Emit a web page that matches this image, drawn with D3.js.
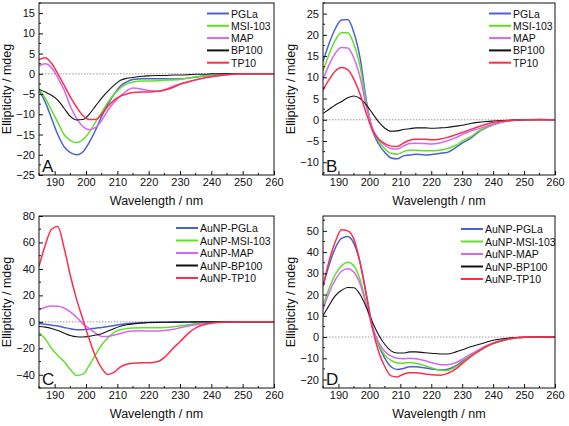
<!DOCTYPE html>
<html><head><meta charset="utf-8">
<script src="https://cdn.jsdelivr.net/npm/d3@7"></script>
<style>body{margin:0;background:#fff}svg{display:block}text{font-family:"Liberation Sans",Arial,sans-serif;fill:#111}</style>
</head><body><svg id="c" width="569" height="426"></svg>
<script>
// Wavelength grid (nm)
const wavelengths = [185,187,189,191,193,195,197,199,201,203,205,207,209,211,213,215,218,220,223,225,228,230,233,235,238,240,245,250,255,260];
const xTicks = [190,200,210,220,230,240,250,260];

// Panel A (free peptides)
const A_PGLa  = [-4,-7,-11,-15,-18,-19.5,-20,-19.3,-17,-14,-10.5,-7.5,-5,-3,-2,-1.4,-1.2,-1.2,-1.2,-1.2,-1.3,-1.3,-1,-0.8,-0.5,-0.3,0,0,0,0];
const A_MSI   = [-3.8,-6,-9,-12,-15,-16.5,-17,-16.3,-14.5,-12,-9.5,-7,-5,-3.5,-2.5,-2,-1.8,-1.8,-1.7,-1.6,-1.5,-1.4,-1,-0.8,-0.5,-0.3,-0.1,0,0,0];
const A_MAP   = [2,2.5,1.5,-1,-4,-8,-11,-13,-13.8,-13.3,-11.5,-9,-7,-5.5,-4.2,-3.5,-3.8,-4.1,-4.3,-4,-3,-2.5,-1.9,-1.5,-0.9,-0.6,-0.2,0,0,0];
const A_BP100 = [-3.8,-4.5,-5.3,-6.5,-8.5,-10.5,-11.4,-11.3,-10,-8,-6,-4.3,-2.8,-1.6,-1.1,-0.9,-0.6,-0.5,-0.4,-0.4,-0.3,-0.3,-0.2,-0.1,-0.1,0,0,0,0,0];
const A_TP10  = [3.5,4,2.6,0,-2.8,-5.7,-8.2,-10.3,-11.3,-11.3,-10,-8,-6.5,-5.5,-5,-4.6,-4.5,-4.5,-4.3,-4,-3.3,-2.6,-1.9,-1.5,-1,-0.7,-0.2,0,0,0];

// Panel B
const B_PGLa  = [13.7,18,21.5,23.5,23.6,20.5,14.5,4.6,-2.5,-5.7,-7.7,-9,-9.2,-8.5,-8.3,-8.1,-8.3,-8.2,-7.9,-7.7,-6.5,-5.5,-4.2,-3,-1.8,-1.2,-0.2,0,0,0];
const B_MSI   = [11.5,15.5,18.8,20.5,20.5,17.8,12.5,4,-2.2,-5,-6.8,-7.9,-8.1,-7.5,-7.2,-7.2,-7.3,-7.3,-7.1,-6.8,-6,-5,-3.9,-2.8,-1.7,-1.1,-0.2,0,0,0];
const B_MAP   = [9.5,13,15.7,17,16.9,14.5,10,3.2,-2,-4.5,-6,-6.8,-6.9,-6.2,-5.6,-5.5,-5.6,-5.7,-5.4,-5,-4.2,-3.5,-2.6,-2.2,-1.5,-1,-0.3,0,0,0];
const B_BP100 = [1.5,2.5,3.5,4.3,5.2,5.6,5,3.5,1.5,-0.5,-2,-2.7,-2.6,-2.3,-2.1,-1.9,-1.9,-2,-1.9,-1.8,-1.5,-1.3,-0.8,-0.6,-0.4,-0.3,-0.1,0,0.1,0];
const B_TP10  = [7,9.5,11.5,12.3,11.8,9.5,6,1.5,-2.5,-4.6,-5.6,-6.2,-6.3,-5.5,-4.8,-4.6,-4.6,-4.7,-4.5,-4.2,-3.5,-3,-2.2,-1.7,-1,-0.6,-0.2,0,0,0];

// Panel C (AuNP conjugates)
const C_PGLa  = [-1.2,-1.8,-2.5,-3.2,-4.2,-5.2,-5.9,-6,-5.5,-4.8,-4.2,-3.5,-2.7,-2,-1.4,-1,-0.6,-0.5,-0.4,-0.3,-0.3,-0.2,-0.1,-0.1,0,0,0,0,0,0];
const C_MSI   = [-8,-13,-20,-25.5,-30,-36,-40.5,-39.5,-33,-25,-17.5,-12,-8,-6,-5,-4.6,-4.5,-4.5,-4.5,-4.3,-3.7,-3,-2,-1.3,-0.7,-0.4,0,0,0,0];
const C_MAP   = [9,11,12,11.7,10.5,7.5,3.5,-1.5,-5,-8.5,-11,-11,-10,-8.8,-7.5,-7,-6.8,-6.9,-6.9,-6.6,-5.6,-4.5,-3,-2.2,-1.2,-0.7,-0.1,0,0,0];
const C_BP100 = [-3.5,-4,-5,-6.5,-8.5,-10.3,-11.3,-11.5,-11,-10,-9,-7,-5,-3.3,-2.2,-1.5,-0.8,-0.5,-0.4,-0.3,-0.2,-0.2,-0.1,0,0,0,0,0,0,0];
const C_TP10  = [42,58,70,72,56,35,17,2,-13,-26,-35,-39.8,-38,-34,-32,-31.3,-31,-31,-30,-27,-19.5,-15,-8,-4.5,-2,-1,-0.2,0,0,0];

// Panel D
const D_PGLa  = [24,34,42,46.5,47.3,44,35,20,5,-4,-10,-14,-15.3,-14.8,-14,-14,-14.6,-15,-15.5,-15.3,-13.5,-11.5,-8.5,-6.5,-4.2,-2.9,-0.8,-0.1,0,0];
const D_MSI   = [15,23,29.5,33.5,35.2,33.5,27,16,4.5,-3.5,-8.5,-11,-12.2,-12.3,-12,-12.3,-13.5,-14.5,-15.6,-15.7,-14,-12,-8.5,-7,-4.5,-3.2,-1,-0.2,0,0];
const D_MAP   = [13,21,27,31,32.2,30.5,25,15,4.5,-2.5,-6.8,-9,-10,-10.2,-10,-10.2,-11.2,-12,-13,-13.1,-12,-10.5,-7.8,-6.3,-4,-2.8,-0.8,-0.1,0,0];
const D_BP100 = [10,15,19.5,22,23.3,23.2,20,14,7,1,-3.5,-6.5,-7.5,-7.5,-7,-7,-7.4,-7.6,-8,-8,-7,-6,-4.5,-3.6,-2.3,-1.5,-0.5,-0.1,0,0];
const D_TP10  = [24,36,45,50.5,50,46,35,20,4,-7,-14,-18.3,-18.8,-17.5,-16.8,-16.8,-17.4,-17.8,-18,-17.3,-15,-12.5,-9,-7,-4.3,-3,-0.9,-0.1,0,0];

const namesFree = ["PGLa","MSI-103","MAP","BP100","TP10"];
const namesAu   = ["AuNP-PGLa","AuNP-MSI-103","AuNP-MAP","AuNP-BP100","AuNP-TP10"];
const colors = ["#4a62d0","#62e028","#d766ee","#111111","#ff2d4a"];
const widths = [1.5,1.5,1.5,1.1,1.5];

const panels = [
  {letter:"A", names:namesFree, series:[A_PGLa,A_MSI,A_MAP,A_BP100,A_TP10], yDom:[-25,17.5], yTicks:[-25,-20,-15,-10,-5,0,5,10,15], yMinor:2.5,
   box:[39,274,3,175], leg:[207,13.5,12.3]},
  {letter:"B", names:namesFree, series:[B_PGLa,B_MSI,B_MAP,B_BP100,B_TP10], yDom:[-13,27.5], yTicks:[-10,-5,0,5,10,15,20,25], yMinor:2.5,
   box:[323,555,3,175], leg:[489,13.5,12.3]},
  {letter:"C", names:namesAu, series:[C_PGLa,C_MSI,C_MAP,C_BP100,C_TP10], yDom:[-50,80], yTicks:[-40,-20,0,20,40,60,80], yMinor:10,
   box:[39,274,216,388], leg:[176,228,12.5]},
  {letter:"D", names:namesAu, series:[D_PGLa,D_MSI,D_MAP,D_BP100,D_TP10], yDom:[-24,57], yTicks:[-20,-10,0,10,20,30,40,50], yMinor:5,
   box:[323,555,216,388], leg:[461,229,12.5]}
];

const svg = d3.select("#c");
panels.forEach((p,pi)=>{
  const [x0,x1,y0,y1] = p.box;
  const x = d3.scaleLinear().domain([185,260]).range([x0,x1]);
  const y = d3.scaleLinear().domain(p.yDom).range([y1,y0]);
  const g = svg.append("g");
  const cid = "clip"+pi;
  g.append("clipPath").attr("id",cid).append("rect").attr("x",x0).attr("y",y0).attr("width",x1-x0).attr("height",y1-y0);

  // zero line
  g.append("line").attr("x1",x0).attr("x2",x1).attr("y1",y(0)).attr("y2",y(0))
    .attr("stroke","#9a9a9a").attr("stroke-width",1).attr("stroke-dasharray","1.5,1.5");

  // curves
  const line = d3.line().x((d,i)=>x(wavelengths[i])).y(d=>y(d)).curve(d3.curveMonotoneX);
  const cg = g.append("g").attr("clip-path",`url(#${cid})`);
  p.series.forEach((s,i)=>{
    cg.append("path").attr("d",line(s)).attr("fill","none").attr("stroke",colors[i]).attr("stroke-width",widths[i]);
  });

  // axes (ticks inward)
  const xAx = d3.axisBottom(x).tickValues(xTicks).tickSizeInner(-4).tickSizeOuter(0).tickPadding(3);
  const xg = g.append("g").attr("transform",`translate(0,${y1})`).call(xAx);
  const xMin = d3.range(185,261,5).filter(v=>v%10!==0);
  xg.selectAll(".mn").data(xMin).enter().append("line").attr("x1",d=>x(d)).attr("x2",d=>x(d)).attr("y1",0).attr("y2",-2).attr("stroke","#111");
  const yAx = d3.axisLeft(y).tickValues(p.yTicks).tickSizeInner(-4).tickSizeOuter(0).tickPadding(4);
  const yg = g.append("g").attr("transform",`translate(${x0},0)`).call(yAx);
  const yMin = d3.range(Math.ceil(p.yDom[0]/p.yMinor)*p.yMinor, p.yDom[1]+0.001, p.yMinor).filter(v=>!p.yTicks.includes(v));
  yg.selectAll(".mn").data(yMin).enter().append("line").attr("x1",0).attr("x2",2).attr("y1",d=>y(d)).attr("y2",d=>y(d)).attr("stroke","#111");
  [xg,yg].forEach(a=>{ a.select(".domain").remove(); a.selectAll(".tick line").attr("stroke","#111");
    a.selectAll("text").style("font-size","11px").style("font-family","'Liberation Sans',Arial,sans-serif").attr("fill","#111"); });

  // frame
  g.append("rect").attr("x",x0).attr("y",y0).attr("width",x1-x0).attr("height",y1-y0)
    .attr("fill","none").attr("stroke","#111").attr("stroke-width",1);

  // titles
  g.append("text").attr("x",(x0+x1)/2).attr("y",y1+30).attr("text-anchor","middle").style("font-size","12.5px").text("Wavelength / nm");
  g.append("text").attr("transform",`translate(${x0-28},${(y0+y1)/2}) rotate(-90)`).attr("text-anchor","middle").style("font-size","12.5px").text("Ellipticity / mdeg");

  // panel letter
  g.append("text").attr("x",x0+3).attr("y",y1-3).style("font-size","17px").text(p.letter);

  // legend
  const [lx,ly,ls] = p.leg;
  p.names.forEach((n,i)=>{
    const yy = ly+i*ls;
    g.append("line").attr("x1",lx).attr("x2",lx+22).attr("y1",yy).attr("y2",yy).attr("stroke",colors[i]).attr("stroke-width",2);
    g.append("text").attr("x",lx+24).attr("y",yy+4).style("font-size","10.5px").text(n);
  });
});
</script></body></html>
